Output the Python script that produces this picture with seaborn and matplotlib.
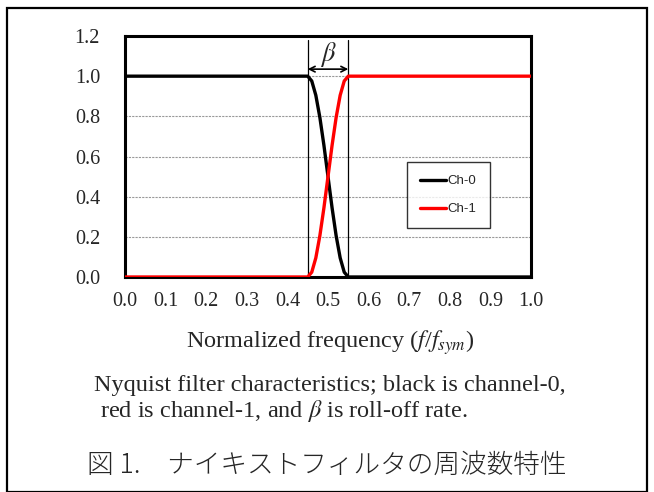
import numpy as np
import pandas as pd
import matplotlib
matplotlib.use("Agg")
import matplotlib.pyplot as plt
import seaborn as sns

# normalized frequency points (f/f_sym) and the two channel responses
freq = [0.0, 0.45, 0.46, 0.47, 0.48, 0.49, 0.50, 0.51, 0.52, 0.53, 0.54, 0.55, 1.0]
ch0 = [1.0, 1.0, 0.976, 0.905, 0.794, 0.655, 0.5, 0.345, 0.206, 0.095, 0.024, 0.0, 0.0]
ch1 = [0.0, 0.0, 0.024, 0.095, 0.206, 0.345, 0.5, 0.655, 0.794, 0.905, 0.976, 1.0, 1.0]
beta_edges = [0.45, 0.55]
xticks = [round(0.1 * i, 1) for i in range(11)]
yticks = [0.0, 0.2, 0.4, 0.6, 0.8, 1.0, 1.2]

caption1 = "Nyquist filter characteristics; black is channel-0,"
caption2 = " red is channel-1, and $\\beta$ is roll-off rate."
title_jp = "図 1.\u3000ナイキストフィルタの周波数特性"

sns.set_style("white")
plt.rcParams["font.family"] = ["Liberation Serif", "DejaVu Serif"]
plt.rcParams["mathtext.fontset"] = "stix"

df = pd.DataFrame({"f": freq * 2, "H": ch0 + ch1,
                   "ch": ["Ch-0"] * len(freq) + ["Ch-1"] * len(freq)})

fig = plt.figure(figsize=(6.54, 4.92), dpi=100)
ax = fig.add_axes([125 / 654, 1 - 277 / 492, 406 / 654, 241 / 492])

# grid first so curves sit over it
for y in yticks[1:-1]:
    ax.axhline(y, color="#999999", lw=0.8, ls=(0, (2, 1)), zorder=1)

for x in beta_edges:
    ax.plot([x, x], [0, 1.18], color="black", lw=0.9, zorder=2)

sns.lineplot(data=df, x="f", y="H", hue="ch", palette={"Ch-0": "black", "Ch-1": "#ff0000"},
             lw=2.4, ax=ax, zorder=3)

ax.annotate("", xy=(beta_edges[0], 1.035), xytext=(beta_edges[1], 1.035),
            arrowprops=dict(arrowstyle="<->", color="black", lw=1.2, shrinkA=0, shrinkB=0),
            zorder=4)
ax.text(0.5, 1.11, "$\\beta$", ha="center", va="center", fontsize=19)

ax.set_xlim(0, 1.0)
ax.set_ylim(0, 1.2)
ax.set_xticks(xticks)
ax.set_xticklabels([f"{v:.1f}" for v in xticks], fontsize=14.5)
ax.set_yticks(yticks)
ax.set_yticklabels([f"{v:.1f}" for v in yticks], fontsize=14.5)
ax.tick_params(axis="x", direction="in", length=5, width=0.8, pad=11, color="#555555")
ax.tick_params(axis="y", direction="out", length=4, width=0.8, pad=14, color="#555555")
ax.set_xlabel("")
ax.set_ylabel("")
for s in ax.spines.values():
    s.set_color("black")
    s.set_linewidth(2.2)

leg = ax.legend(loc="center", bbox_to_anchor=(0.796, 0.34), frameon=True, fancybox=False,
                prop={"family": "Liberation Sans", "size": 9.5}, handlelength=2.0,
                handletextpad=0.1, labelspacing=1.2, borderpad=1.0, borderaxespad=0)
leg.get_frame().set_edgecolor("black")
leg.get_frame().set_linewidth(1.0)
for h in leg.get_lines():
    h.set_linewidth(2.4)

fig.text(330 / 654, 1 - 343 / 492, "Normalized frequency ($f$/$f_{sym}$)",
         ha="center", va="center", fontsize=17.5)
fig.text(94 / 654, 1 - 385 / 492, caption1, ha="left", va="center", fontsize=17.5)
fig.text(94 / 654, 1 - 411 / 492, caption2, ha="left", va="center", fontsize=17.5)
fig.text(327 / 654, 1 - 465 / 492, title_jp, ha="center", va="center", fontsize=19.2,
         family=["Noto Sans CJK JP", "DejaVu Sans"], fontweight="light")

# outer frame
fig.patches.append(plt.Rectangle((7 / 654, 0.5 / 492), 640 / 654, 484 / 492,
                                 transform=fig.transFigure, fill=False,
                                 edgecolor="black", lw=1.6))

fig.savefig("out.png", dpi=100)
